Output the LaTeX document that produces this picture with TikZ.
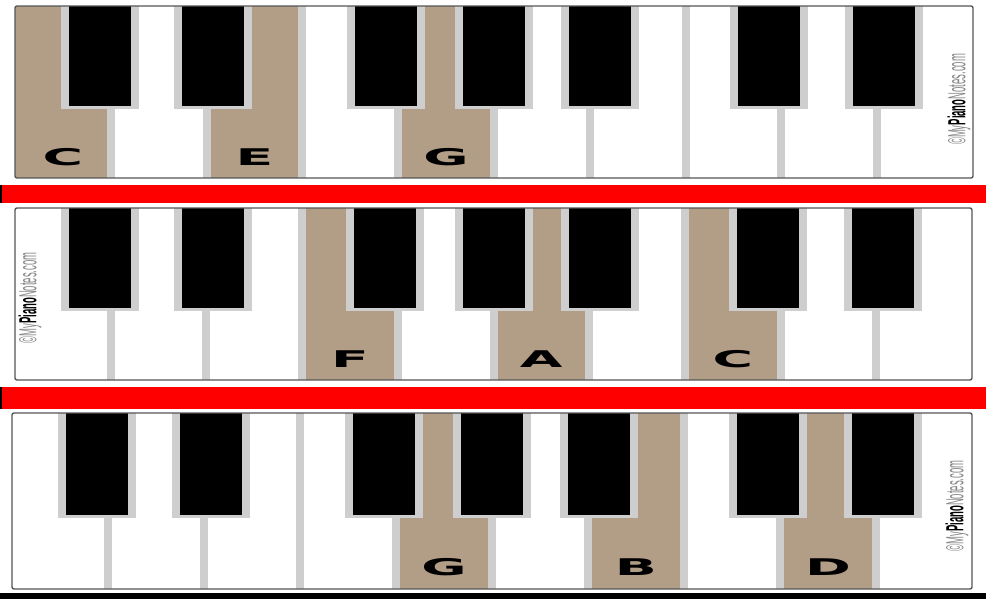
\documentclass[tikz,border=0pt]{standalone}
\usepackage{fontspec}
\setmainfont{Liberation Sans}
\newfontfamily\notefont{DejaVu Sans}
\usepackage{tikz}
\usetikzlibrary{calc}
\usepackage{xcolor}
\definecolor{keytan}{RGB}{178, 157, 135}
\definecolor{keygap}{RGB}{206, 206, 206}
\definecolor{framegray}{RGB}{85, 85, 85}
\definecolor{markgray}{RGB}{135, 135, 135}
\definecolor{barred}{RGB}{255, 0, 0}
\tikzset{
  % Klaviatura qismlari
  framebox/.style   = {draw=framegray, line width=1.4pt, rounded corners=2pt},
  tankey/.style     = {fill=keytan},
  keygapline/.style = {fill=keygap},
  blackhalo/.style  = {fill=keygap},
  blackkey/.style   = {fill=black},
  % Ajratuvchi chiziqlar
  barfill/.style    = {fill=barred},
  % Etiketlar
  notelab/.style    = {font={\notefont\bfseries\fontsize{23}{23}\selectfont},
                       inner sep=0pt, xscale=2.4},
  wmark/.style      = {rotate=90, inner sep=0pt,
                       font=\fontsize{9.5}{10}\selectfont},
}

\begin{document}
\begin{tikzpicture}[x=1pt, y=-1pt]
  \useasboundingbox (0,0) rectangle (986,599);
  % uchta klaviatura
  \foreach \pn/\px/\py/\pw/\ph/\chord in {
      1/15/6/958/172/{0/C,2/E,4/G},
      2/15/208/957/172/{3/F,5/A,7/C},
      3/12/413/960/176/{4/G,6/B,8/D}}{
    \begin{scope}[shift={(\px,\py)}]
      \pgfmathsetmacro\kw{\pw/10}
      \pgfmathsetmacro\bh{0.582*\ph}
      \fill[white] (0,0) rectangle (\pw,\ph);
      \foreach \k/\n in \chord
        \fill[tankey] (\k*\kw,0) rectangle ({(\k+1)*\kw},\ph);
      \foreach \k in {1,...,9}
        \fill[keygapline] (\k*\kw-4,0) rectangle (\k*\kw+4,\ph);
      \foreach \c in {0.89,2.07,3.87,5.0,6.11,7.87,9.07}{
        \fill[blackhalo] (\c*\kw-39,0) rectangle (\c*\kw+39,\bh+3);
        \fill[blackkey] (\c*\kw-31,0) rectangle (\c*\kw+31,\bh);
      }
      \draw[framebox] (0,0) rectangle (\pw,\ph);
      \foreach \k/\n in \chord
        \node[notelab] (lab-\pn-\k) at ({(\k+0.5)*\kw},0.877*\ph) {\n};
    \end{scope}
  }
  % belgi matni
  \node[wmark] (mark1) at (959,99.5)
    {\scalebox{1}[2.6]{\textcolor{markgray}{\textcopyright My}\textbf{Piano}\textcolor{markgray}{Notes.com}}};
  \node[wmark] (mark2) at (30,298)
    {\scalebox{1}[2.6]{\textcolor{markgray}{\textcopyright My}\textbf{Piano}\textcolor{markgray}{Notes.com}}};
  \node[wmark] (mark3) at (957,506)
    {\scalebox{1}[2.6]{\textcolor{markgray}{\textcopyright My}\textbf{Piano}\textcolor{markgray}{Notes.com}}};
  % qizil chiziqlar
  \fill[barfill] (0,185) rectangle (986,203);
  \fill[black] (0,185) rectangle (1.5,203);
  \fill[barfill] (0,387) rectangle (986,409);
  \fill[black] (0,387) rectangle (1.5,409);
  \fill[black] (0,593) rectangle (986,599);
\end{tikzpicture}
\end{document}
